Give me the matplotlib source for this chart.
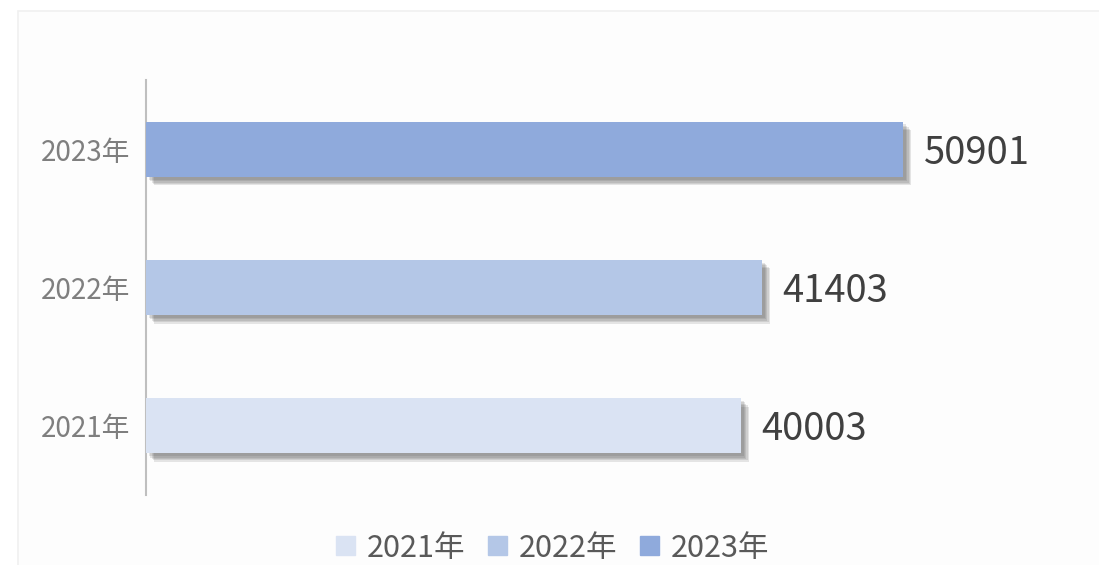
import matplotlib.pyplot as plt
import matplotlib.patheffects as pe
from matplotlib.patches import Rectangle

plt.rcParams['font.family'] = ['Noto Sans CJK SC', 'DejaVu Sans']

# 数据
years = ['2021年', '2022年', '2023年']
values = [40003, 41403, 50901]
colors = ['#DAE3F3', '#B4C7E7', '#8FAADC']

fig = plt.figure(figsize=(10.99, 5.65), dpi=100)
fig.patch.set_facecolor('white')

# 图表区域的浅色边框
fig.patches.append(Rectangle((0.016, -0.01), 1.0, 0.99, transform=fig.transFigure,
                             facecolor='#FDFDFD', edgecolor='#F0F0F0', linewidth=1.2, zorder=-5))

ax = fig.add_axes([0.1328, 0.124, 0.812, 0.734])
ax.set_facecolor('none')
ax.set_zorder(2)

# 柔和的阴影：几层叠加
shadow = [pe.SimplePatchShadow(offset=(d, -d), shadow_rgbFace='#404040', alpha=0.13)
          for d in (2, 3, 4, 5, 6)] + [pe.Normal()]
bars = ax.barh(range(len(years)), values, height=0.4, color=colors, zorder=3)
for b in bars:
    b.set_path_effects(shadow)

for i, v in enumerate(values):
    ax.text(v + 1400, i - 0.03, str(v), va='center', ha='left', fontsize=27.5, color='#404040')

ax.set_xlim(0, 60000)
ax.set_ylim(-0.5, 2.5)
ax.set_yticks(range(len(years)))
ax.set_yticklabels(years, fontsize=20, color='#7F7F7F')
ax.tick_params(axis='y', length=0, pad=11)
ax.set_xticks([])
for s in ['top', 'right', 'bottom']:
    ax.spines[s].set_visible(False)
ax.spines['left'].set_color('#BFBFBF')
ax.spines['left'].set_linewidth(1.5)

# 图例
handles = [Rectangle((0, 0), 1, 1, color=c) for c in colors]
fig.legend(handles, years, loc='center', bbox_to_anchor=(0.503, 0.03), ncol=3, frameon=False,
           fontsize=22, labelcolor='#595959', handlelength=0.6, handleheight=0.6,
           handletextpad=0.4, columnspacing=0.75)

fig.savefig('out.png', dpi=100)
